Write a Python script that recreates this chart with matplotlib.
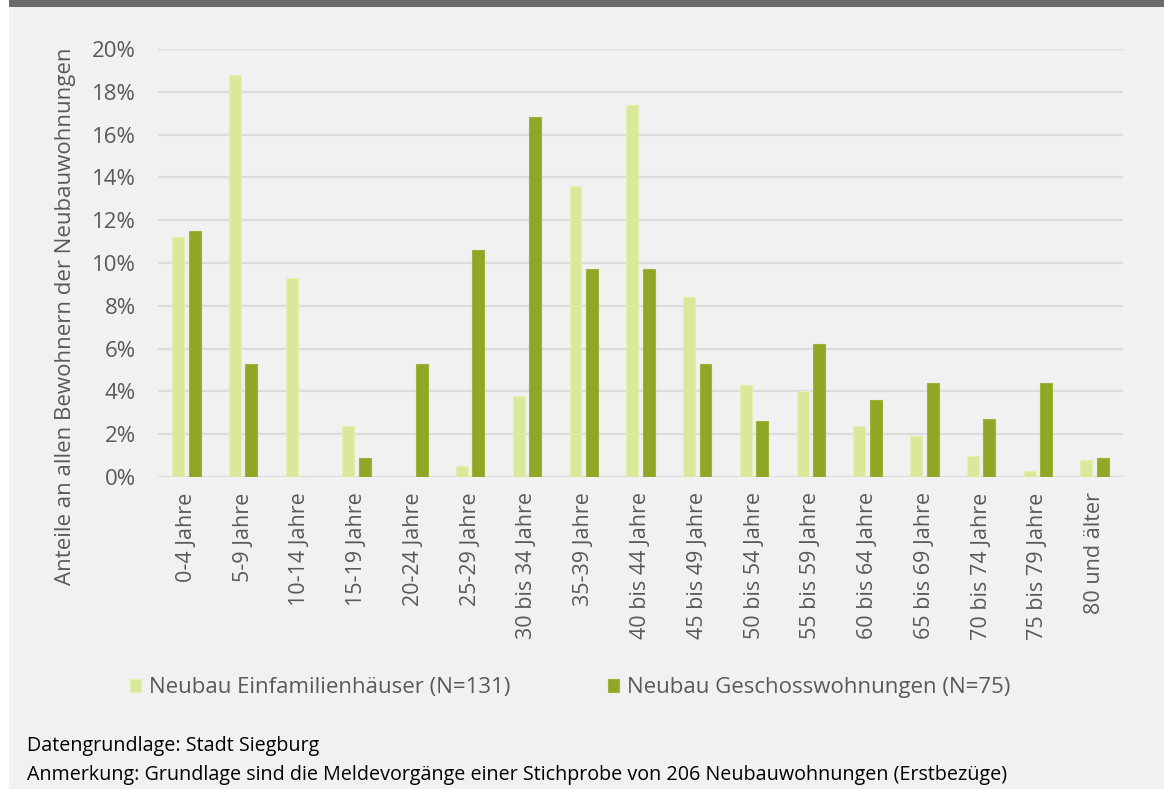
import numpy as np
import matplotlib.pyplot as plt
from matplotlib.patches import Rectangle

# age groups and shares (percent)
categories = ["0-4 Jahre", "5-9 Jahre", "10-14 Jahre", "15-19 Jahre", "20-24 Jahre",
              "25-29 Jahre", "30 bis 34 Jahre", "35-39 Jahre", "40 bis 44 Jahre",
              "45 bis 49 Jahre", "50 bis 54 Jahre", "55 bis 59 Jahre", "60 bis 64 Jahre",
              "65 bis 69 Jahre", "70 bis 74 Jahre", "75 bis 79 Jahre", "80 und älter"]
efh = [11.2, 18.8, 9.3, 2.4, 0.0, 0.5, 3.8, 13.6, 17.4, 8.4, 4.3, 4.0, 2.4, 1.9, 1.0, 0.3, 0.8]
gw = [11.5, 5.3, 0.0, 0.9, 5.3, 10.6, 16.8, 9.7, 9.7, 5.3, 2.6, 6.2, 3.6, 4.4, 2.7, 4.4, 0.9]
yticks = [0, 2, 4, 6, 8, 10, 12, 14, 16, 18, 20]

label_efh = "Neubau Einfamilienhäuser (N=131)"
label_gw = "Neubau Geschosswohnungen (N=75)"
note1 = "Datengrundlage: Stadt Siegburg"
note2 = "Anmerkung: Grundlage sind die Meldevorgänge einer Stichprobe von 206 Neubauwohnungen (Erstbezüge)"

plt.rcParams['font.family'] = ['Open Sans', 'DejaVu Sans']

bg = '#f1f1f1'
c_light = '#d9e99b'
c_dark = '#8ea825'
txt = '#595959'

fig = plt.figure(figsize=(11.64, 7.89), dpi=100)
fig.patch.set_facecolor('white')
# light background panel and dark band at top
fig.add_artist(Rectangle((9 / 1164, 0), 1, 1, transform=fig.transFigure,
                         facecolor=bg, edgecolor='none', zorder=0))
fig.add_artist(Rectangle((9 / 1164, 1 - 7 / 789), 1, 7 / 789, transform=fig.transFigure,
                         facecolor='#6b6b6b', edgecolor='none', zorder=1))

ax = fig.add_axes([158 / 1164, 1 - 477 / 789, 965 / 1164, 428 / 789])
ax.set_facecolor(bg)
ax.patch.set_alpha(0)

x = np.arange(len(categories))
w = 0.21
off = 0.145
ax.bar(x - off, efh, w, color=c_light, edgecolor='#e4f0ad', linewidth=0.8,
       label=label_efh, zorder=3)
ax.bar(x + off, gw, w, color=c_dark, edgecolor='#9cb43a', linewidth=0.8,
       label=label_gw, zorder=3)

ax.set_xlim(-0.5, len(categories) - 0.5)
ax.set_ylim(0, 20)
ax.set_yticks(yticks)
ax.set_yticklabels(["{}%".format(v) for v in yticks], fontsize=16, color=txt)
ax.set_xticks(x)
ax.set_xticklabels(categories, rotation=90, fontsize=15.5, color=txt)
ax.tick_params(axis='y', length=0, pad=16)
ax.tick_params(axis='x', length=0, pad=11)
ax.grid(axis='y', color='#dcdcdc', linewidth=1.6, zorder=0)
for s in ax.spines.values():
    s.set_visible(False)

ax.set_ylabel("Anteile an allen Bewohnern der Neubauwohnungen", fontsize=16,
              color=txt, va='center')
ax.yaxis.set_label_coords(-0.096, 0.376)

leg = fig.legend(loc='center', bbox_to_anchor=(0.49, 1 - 688 / 789), ncol=2,
                 frameon=False, fontsize=16, handlelength=0.5, handleheight=0.5,
                 handletextpad=0.35, columnspacing=4.4, labelcolor=txt)

fig.text(27 / 1164, 1 - 751 / 789, note1, fontsize=14.2, color='black', va='baseline')
fig.text(27 / 1164, 1 - 780 / 789, note2, fontsize=14.2, color='black', va='baseline')

plt.savefig("out.png", dpi=100, facecolor=fig.get_facecolor())
